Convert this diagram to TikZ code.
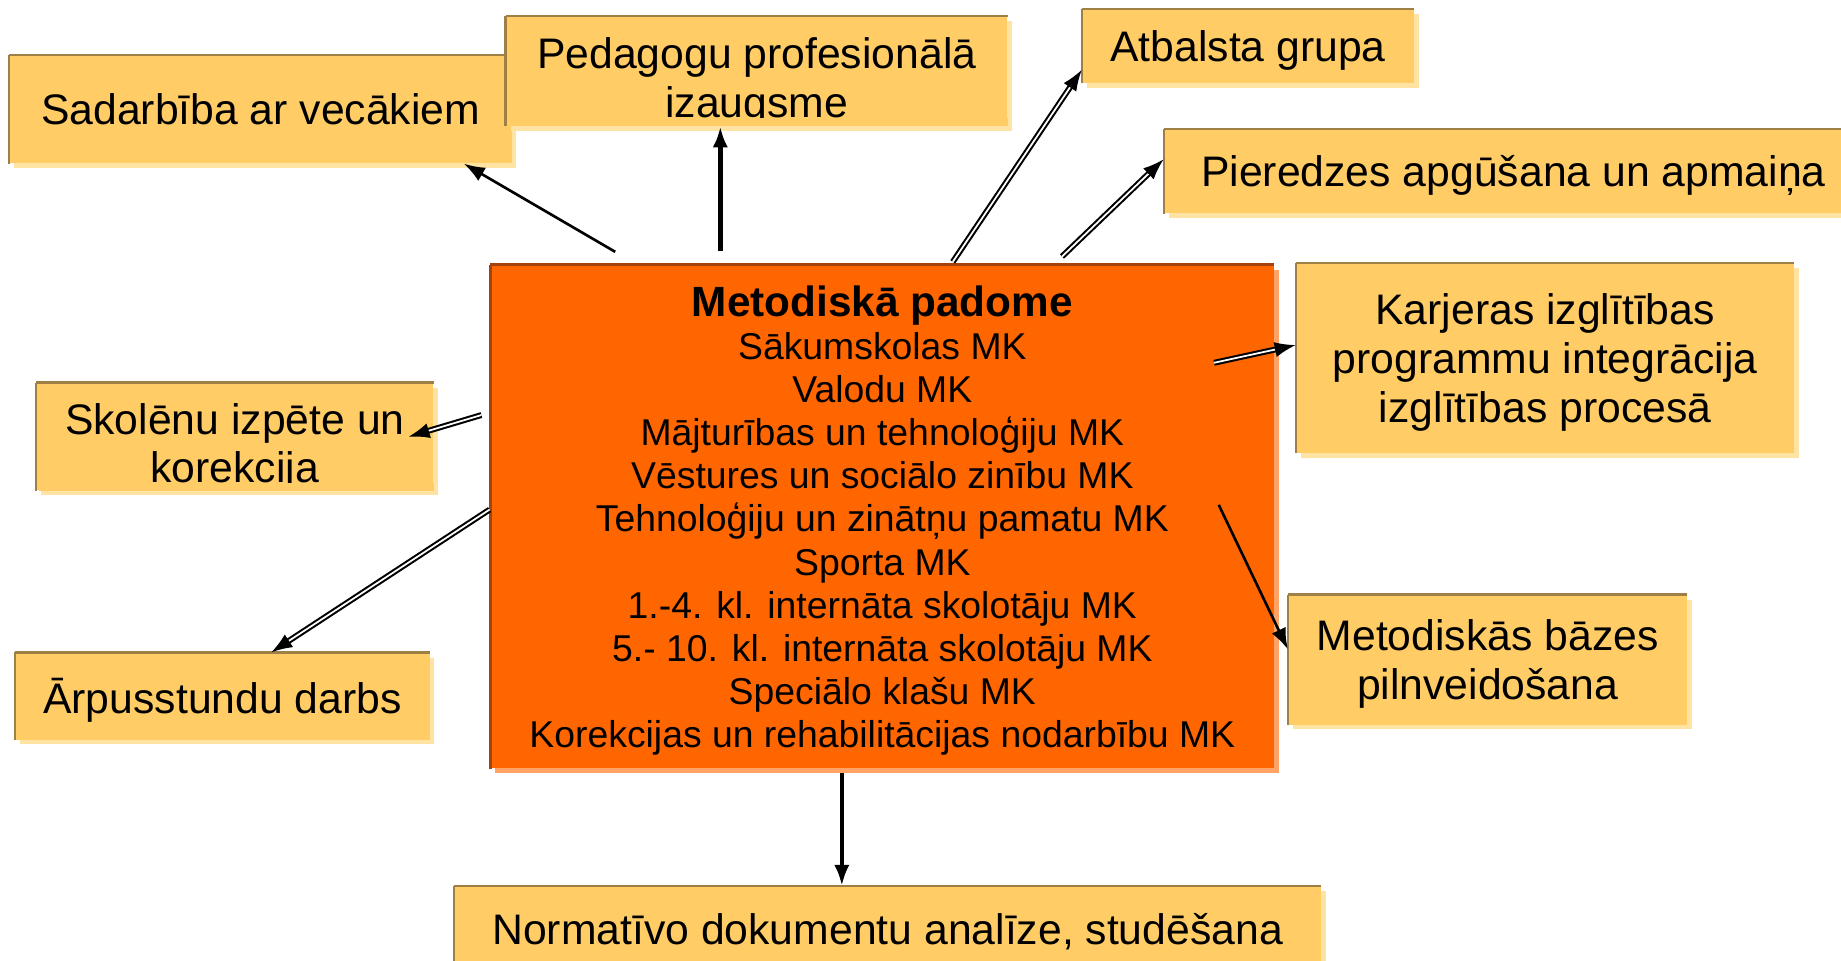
\documentclass[tikz,border=0pt]{standalone}
\usepackage{fontspec}
\setmainfont{Liberation Sans}
\usetikzlibrary{arrows.meta,calc,shadows}
\definecolor{topicfill}{HTML}{FFCC66}
\definecolor{topicedge}{HTML}{9E8046}
\definecolor{topicshade}{HTML}{FFE3A3}
\definecolor{hubfill}{HTML}{FF6600}
\definecolor{hubedge}{HTML}{A3440F}
\definecolor{hubshade}{HTML}{FFA266}

\begin{document}
\begin{tikzpicture}[
    >={Latex[length=3.6mm,width=2.6mm]},
    line cap=butt, line join=miter,
    rimmed/.style={append after command={
        (\tikzlastnode.south west) edge[draw=#1, line width=0.4mm] (\tikzlastnode.north west)
        (\tikzlastnode.north west) edge[draw=#1, line width=0.4mm] (\tikzlastnode.north east)}},
    topic/.style={fill=topicfill, inner sep=0pt, align=center, text depth=0pt,
        font=\fontsize{20.7}{23.6}\selectfont,
        drop shadow={shadow xshift=0.8mm, shadow yshift=-0.8mm, fill=topicshade, opacity=1},
        rimmed=topicedge},
    hub/.style={fill=hubfill, inner sep=0pt, align=center, text depth=0pt,
        font=\fontsize{18.1}{20.9}\selectfont,
        drop shadow={shadow xshift=0.8mm, shadow yshift=-0.8mm, fill=hubshade, opacity=1},
        rimmed=hubedge},
    onearrow/.style={->, line width=0.45mm},
    twinarrow/.style={->, draw=black, double=white, double distance=0.3mm, line width=0.35mm},
    heavyarrow/.style={->, line width=0.75mm},
]
\useasboundingbox (0,0) rectangle (31.36,16.36);

% --- Outer topics (back to front) ---
\node[topic, minimum width=8.55cm, minimum height=1.84cm] (sad) at (4.44,14.50) {Sadarbība ar vecākiem};
\node[topic, minimum width=8.54cm, minimum height=1.87cm] (ped) at (12.89,15.15) {\rule{0pt}{0.74cm}Pedagogu profesionālā\\izaugsme};
\node[topic, minimum width=5.65cm, minimum height=1.25cm] (atb) at (21.26,15.57) {Atbalsta grupa};
\node[topic, minimum width=11.9cm, minimum height=1.42cm] (pie) at (25.78,13.44) {Pieredzes apgūšana un apmaiņa};
\node[topic, minimum width=8.48cm, minimum height=3.23cm] (kar) at (26.32,10.26) {Karjeras izglītības\\programmu integrācija\\izglītības procesā};
\node[topic, minimum width=6.76cm, minimum height=1.83cm] (sko) at (4.00,8.92) {\rule{0pt}{0.74cm}Skolēnu izpēte un\\korekcija};
\node[topic, minimum width=7.06cm, minimum height=1.48cm] (arp) at (3.79,4.50) {Ārpusstundu darbs};
\node[topic, minimum width=6.79cm, minimum height=2.21cm] (bas) at (25.34,5.12) {Metodiskās bāzes\\pilnveidošana};
\node[topic, minimum width=14.76cm, minimum height=1.44cm] (nor) at (15.12,0.54) {Normatīvo dokumentu analīze, studēšana};

% descenders cut off at the box bottom, as on the slide
\fill[topicfill] ($(ped.south west)+(0.05,0)$) rectangle ($(ped.south east)+(0,0.15)$);
\fill[topicfill] ($(sko.south west)+(0.05,0)$) rectangle ($(sko.south east)+(0,0.14)$);

% --- Council with its groups ---
\node[hub, minimum width=13.34cm, minimum height=8.57cm] (mp) at (15.03,7.56) {{\fontsize{20.5}{20.9}\selectfont\bfseries Metodiskā padome}\\
    Sākumskolas MK\\
    Valodu MK\\
    Mājturības un tehnoloģiju MK\\
    Vēstures un sociālo zinību MK\\
    Tehnoloģiju un zinātņu pamatu MK\\
    Sporta MK\\
    1.-4. kl. internāta skolotāju MK\\
    5.- 10. kl. internāta skolotāju MK\\
    Speciālo klašu MK\\
    Korekcijas un rehabilitācijas nodarbību MK};

% --- Arrows out of the council ---
\coordinate (s-sad) at (10.48,12.07);
\coordinate (s-ped) at (12.27,12.08);
\coordinate (s-atb) at (16.23,11.90);
\coordinate (s-pie) at (18.09,11.99);
\coordinate (s-kar) at (20.68,10.18);
\coordinate (s-bas) at (20.76,7.76);
\coordinate (s-nor) at (14.34,3.19);
\coordinate (s-arp) at (8.34,7.68);
\coordinate (s-sko) at (8.20,9.29);

\draw[onearrow] (s-sad) -- (sad.-15);
\draw[heavyarrow] (s-ped) -- (s-ped |- ped.south);
\draw[twinarrow] (s-atb) -- (atb.-172);
\draw[twinarrow] (s-pie) -- (pie.178);
\draw[twinarrow] (s-kar) -- (kar.177);
\draw[onearrow] (s-bas) -- (bas.177);
\draw[heavyarrow] (s-nor) -- (s-nor |- nor.north);
\draw[twinarrow] (s-arp) -- (arp.42);
\draw[twinarrow] (s-sko) -- ($(sko.east)+(-0.43,0)$);

\end{tikzpicture}
\end{document}
